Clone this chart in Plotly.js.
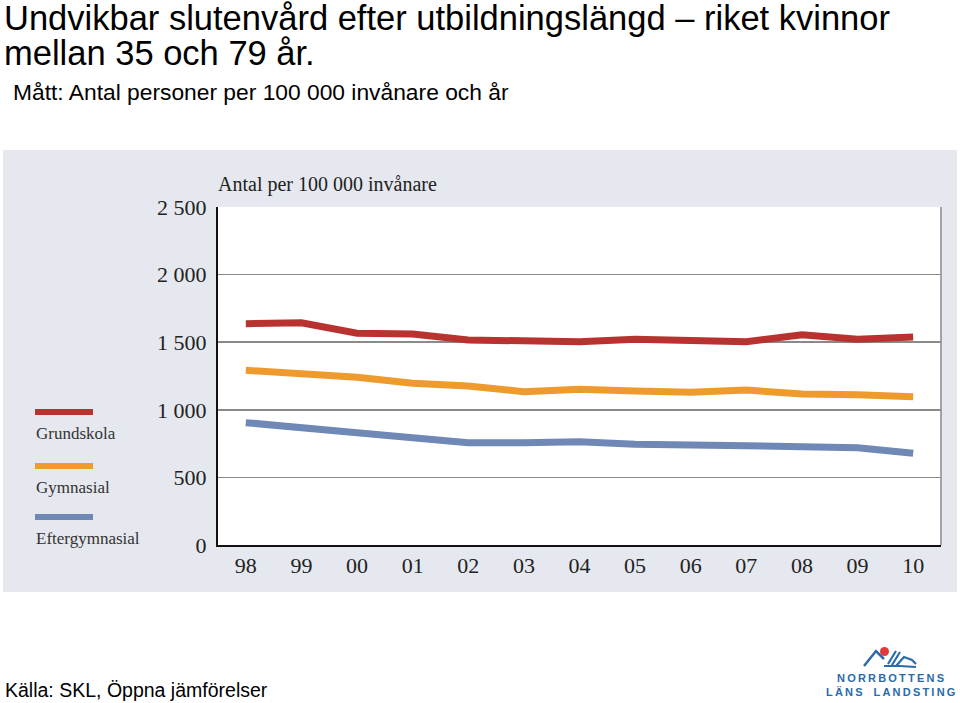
<!DOCTYPE html>
<html><head><meta charset="utf-8">
<script src="https://cdn.plot.ly/plotly-3.0.1.min.js"></script>
<style>html,body{margin:0;padding:0;background:#fff;}#chart{width:960px;height:703px;}</style>
</head><body><div id="chart"></div>
<script>
// ---- data ----
const years = ["98","99","00","01","02","03","04","05","06","07","08","09","10"];
const seriesNames = ["Grundskola","Gymnasial","Eftergymnasial"];
const grundskola = [1637,1644,1566,1560,1516,1516,1504,1521,1511,1504,1555,1521,1538];
const gymnasial  = [1292,1270,1240,1196,1176,1134,1152,1139,1129,1146,1117,1112,1097];
const eftergymnasial = [905,863,831,794,757,757,764,745,734,734,727,720,678];
const yTickVals = [0,500,1000,1500,2000,2500];
const yTickText = ["0","500","1 000","1 500","2 000","2 500"];
const colors = ["#b8322f","#ee9a2c","#6f88b6"];

// ---- geometry helpers (pixel -> paper) ----
const L=218, R=941, T=207, B=545, W=960, H=703;
const px = x => (x-L)/(R-L);
const py = y => (B-y)/(B-T);

const serif = "Liberation Serif, Times New Roman, serif";
const sans = "Liberation Sans, Arial, sans-serif";

const seriesData = [grundskola, gymnasial, eftergymnasial];
const traces = seriesData.map((vals,i)=>({
  type:'scatter', mode:'lines', x:years, y:vals, name:seriesNames[i],
  line:{color:colors[i], width:7, shape:'linear'}, showlegend:false, hoverinfo:'skip'
}));

const shapes = [
  {type:'rect', xref:'paper', yref:'paper', x0:px(3), x1:px(957), y0:py(592), y1:py(150),
   fillcolor:'#e5e8ee', line:{width:0}, layer:'below'},
  {type:'rect', xref:'paper', yref:'paper', x0:0, x1:1, y0:0, y1:1,
   fillcolor:'#ffffff', line:{width:0}, layer:'below'},
  {type:'line', xref:'paper', yref:'paper', x0:1, x1:1, y0:0, y1:1, line:{color:'#8a8a8a', width:1.5}}
];
const legY = [412, 466, 517];
legY.forEach((y,i)=>{
  shapes.push({type:'line', xref:'paper', yref:'paper', x0:px(35), x1:px(93), y0:py(y), y1:py(y),
    line:{color:colors[i], width:6}});
});
function pth(pts){return pts.map((p,i)=>(i?'L':'M')+px(p[0])+','+py(p[1])).join(' ');}
shapes.push({type:'path', xref:'paper', yref:'paper', path:pth([[864,666],[876,651],[884,659]]), line:{color:'#2b6aab', width:2.5}});
shapes.push({type:'path', xref:'paper', yref:'paper', path:pth([[888,664],[896,651]]), line:{color:'#2b6aab', width:2.2}});
shapes.push({type:'path', xref:'paper', yref:'paper', path:pth([[892,665],[900,652]]), line:{color:'#2b6aab', width:2.2}});
shapes.push({type:'path', xref:'paper', yref:'paper', path:pth([[896,666],[904,657],[912,660],[916,664]]), line:{color:'#2b6aab', width:2.2}});
shapes.push({type:'path', xref:'paper', yref:'paper', path:pth([[884,666],[900,666],[916,667]]), line:{color:'#2b6aab', width:2}});
shapes.push({type:'circle', xref:'paper', yref:'paper', x0:px(880), x1:px(889), y0:py(656), y1:py(647), fillcolor:'#e23a3a', line:{width:0}});

const ann = [];
function txt(text,x,y,size,opts={}){
  ann.push(Object.assign({text:text, xref:'paper', yref:'paper', x:px(x), y:py(y), showarrow:false,
    xanchor:'left', yanchor:'middle', font:{family:sans, size:size, color:'#000'}}, opts));
}
txt("Undvikbar slutenvård efter utbildningslängd – riket kvinnor", 2, 18, 34.5);
txt("mellan 35 och 79 år.", 2, 53, 34.5);
txt("Mått: Antal personer per 100 000 invånare och år", 11, 92, 22.8);
txt("Antal per 100 000 invånare", 216, 184, 20, {font:{family:serif, size:20, color:'#222'}});
seriesNames.forEach((n,i)=>{
  txt(n, 34, legY[i]+21, 17, {font:{family:serif, size:17, color:'#333'}});
});
txt("Källa: SKL, Öppna jämförelser", 3, 690, 19.5);
const sp = s => s.split('').join('\u2009');
txt(sp("NORRBOTTENS"), 890, 678, 11, {xanchor:'center', font:{family:sans, size:11, color:'#2b6aab', weight:'bold'}});
txt(sp("LÄNS")+'\u2003'+sp("LANDSTING"), 890, 692, 11, {xanchor:'center', font:{family:sans, size:11, color:'#2b6aab', weight:'bold'}});

const layout = {
  width:W, height:H,
  margin:{l:L, r:W-R, t:T, b:H-B, pad:0},
  paper_bgcolor:'#ffffff', plot_bgcolor:'rgba(0,0,0,0)',
  showlegend:false,
  xaxis:{type:'category', range:[-0.5,12.5], showgrid:false, zeroline:false,
    showline:true, linecolor:'#111', linewidth:2,
    ticks:'', tickfont:{family:serif, size:22, color:'#222'}, fixedrange:true},
  yaxis:{range:[0,2500], tickvals:yTickVals, ticktext:yTickText,
    showgrid:true, gridcolor:'#8a8a8a', gridwidth:1.5, zeroline:false,
    showline:true, linecolor:'#111', linewidth:2,
    ticks:'outside', ticklen:5, tickcolor:'rgba(0,0,0,0)',
    tickfont:{family:serif, size:22, color:'#222'}, fixedrange:true},
  shapes:shapes, annotations:ann
};
Plotly.newPlot('chart', traces, layout, {displayModeBar:false, staticPlot:true});
</script></body></html>
